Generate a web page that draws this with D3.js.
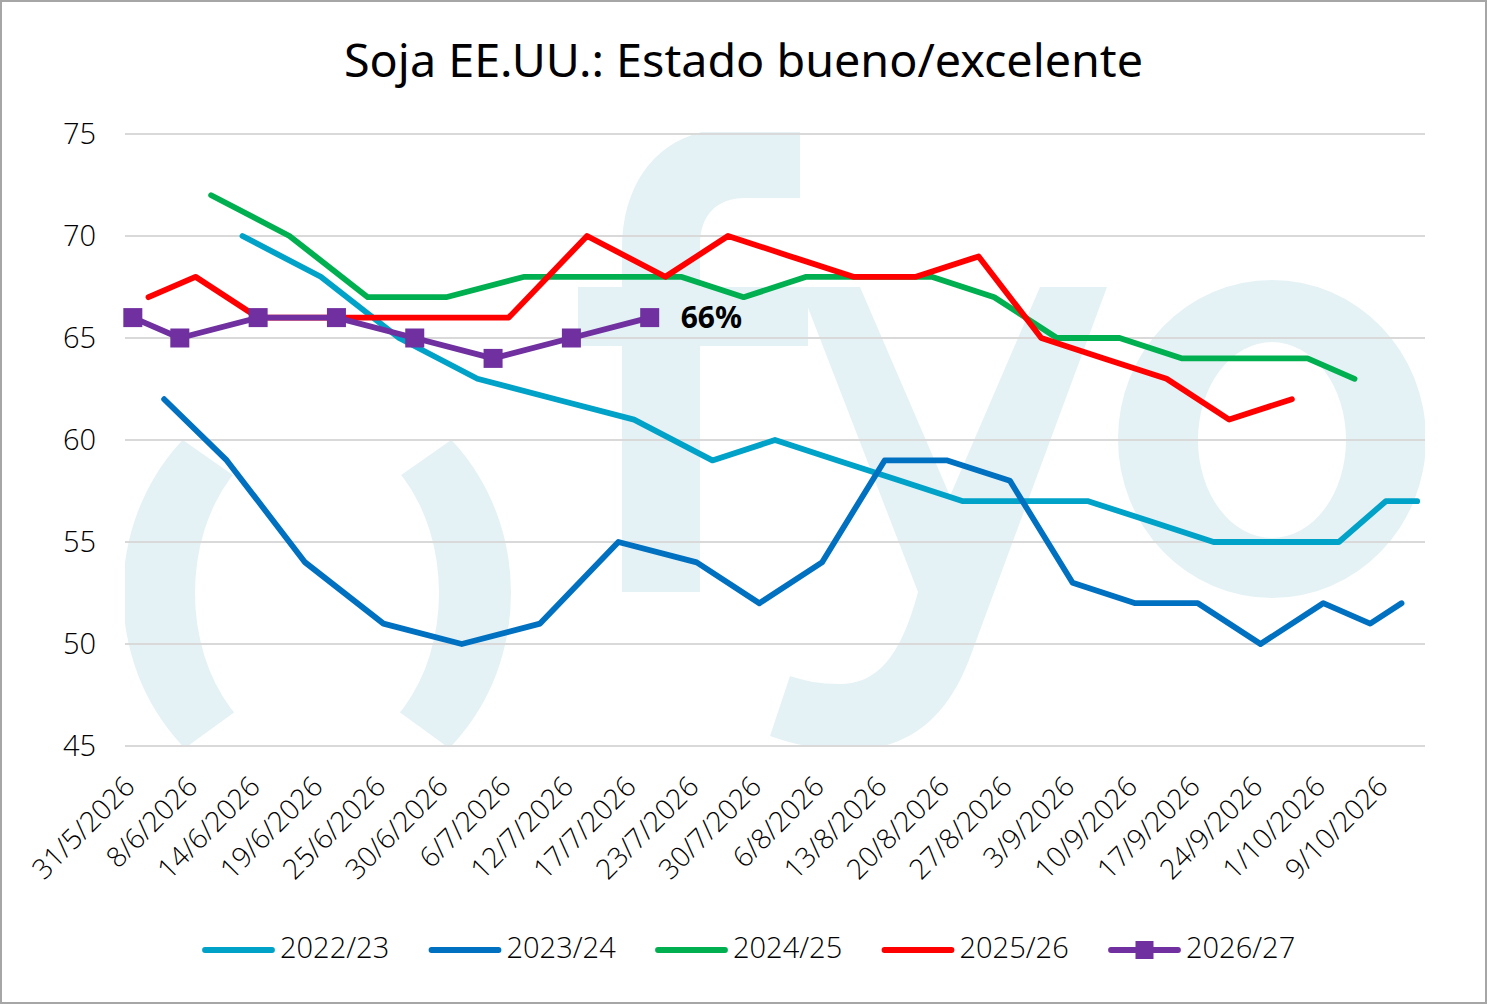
<!DOCTYPE html>
<html>
<head>
<meta charset="utf-8">
<script src="https://cdn.jsdelivr.net/npm/d3@7"></script>
<style>
  html, body { margin: 0; padding: 0; background: #ffffff; }
  svg { display: block; }
  text { font-family: "Noto Sans", "Open Sans", "DejaVu Sans", sans-serif; fill: #000; }
  .light { font-family: "Open Sans", "Noto Sans", sans-serif; font-weight: 300; }
</style>
</head>
<body>
<svg id="chart" width="1487" height="1004"></svg>
<script>
// ---------------- DATA ----------------
const title = "Soja EE.UU.: Estado bueno/excelente";
const xTickIndex = [0,4,8,12,16,20,24,28,32,36,40,44,48,52,56,60,64,68,72,76,80];
const xTickLabels = ["31/5/2026","8/6/2026","14/6/2026","19/6/2026","25/6/2026","30/6/2026",
  "6/7/2026","12/7/2026","17/7/2026","23/7/2026","30/7/2026","6/8/2026","13/8/2026",
  "20/8/2026","27/8/2026","3/9/2026","10/9/2026","17/9/2026","24/9/2026","1/10/2026","9/10/2026"];
const categoryCount = 83;
const yTicks = [45,50,55,60,65,70,75];

const seriesNames = ["2022/23","2023/24","2024/25","2025/26","2026/27"];
const seriesColors = ["#00A2C8","#0070C0","#00B050","#FF0000","#7030A0"];

const x2223 = [7,12,17,22,27,32,37,41,45,49,53,57,61,65,69,73,77,80,82];
const v2223 = [70,68,65,63,62,61,59,60,59,58,57,57,57,56,55,55,55,57,57];

const x2324 = [2,6,11,16,21,26,31,36,40,44,48,52,56,60,64,68,72,76,79,81];
const v2324 = [62,59,54,51,50,51,55,54,52,54,59,59,58,53,52,52,50,52,51,52];

const x2425 = [5,10,15,20,25,30,35,39,43,47,51,55,59,63,67,71,75,78];
const v2425 = [72,70,67,67,68,68,68,67,68,68,68,67,65,65,64,64,64,63];

const x2526 = [1,4,8,12,16,20,24,29,34,38,42,46,50,54,58,62,66,70,74];
const v2526 = [67,68,66,66,66,66,66,70,68,70,69,68,68,69,65,64,63,61,62];

const x2627 = [0,3,8,13,18,23,28,33];
const v2627 = [66,65,66,66,65,64,65,66];

const lastLabel = "66%";

// ---------------- LAYOUT ----------------
const W = 1487, H = 1004;
const plot = { left: 125, right: 1425, top: 134, bottom: 746 };

const svg = d3.select("#chart");

const x = d3.scaleLinear().domain([-0.5, categoryCount - 0.5]).range([plot.left, plot.right]);
const y = d3.scaleLinear().domain([45, 75]).range([plot.bottom, plot.top]);

// background + frame
svg.append("rect").attr("x",0).attr("y",0).attr("width",W).attr("height",H).attr("fill","#fff");
svg.append("rect").attr("x",1).attr("y",1).attr("width",W-2).attr("height",H-2)
  .attr("fill","none").attr("stroke","#a6a6a6").attr("stroke-width",2);

// ---------------- WATERMARK ----------------
const defs = svg.append("defs");
defs.append("clipPath").attr("id","plotClip").append("rect")
  .attr("x",plot.left).attr("y",plot.top-2).attr("width",plot.right-plot.left).attr("height",plot.bottom-plot.top+2);
defs.append("clipPath").attr("id","parenClip").append("polygon")
  .attr("points","317,534 100,382 0,382 0,810 100,810 317,652 534,810 700,810 700,382 534,382");

const wm = svg.append("g").attr("clip-path","url(#plotClip)").attr("fill","#e4f2f6");
function ellipsePath(cx, cy, rx, ry) {
  return `M${cx-rx},${cy} A${rx},${ry} 0 1,0 ${cx+rx},${cy} A${rx},${ry} 0 1,0 ${cx-rx},${cy} Z`;
}
// ( )
wm.append("g").attr("clip-path","url(#parenClip)").append("path")
  .attr("fill-rule","evenodd")
  .attr("d", ellipsePath(317,593,194,212) + ellipsePath(317,593,122,163));
// f
wm.append("path").attr("d",
  "M622,592 L622,250 C622,175 665,128 735,128 L800,128 L800,198 L745,198 C718,198 700,214 700,245 L700,592 Z");
wm.append("rect").attr("x",578).attr("y",287).attr("width",230).attr("height",59);
// y
wm.append("path").attr("d",
  "M800,287 L860,287 L950,496 L1040,287 L1107,287 L969,660 C945,722 905,750 850,750 C820,750 795,745 770,736 L790,676 C805,681 820,684 840,684 C875,684 900,660 918,592 Z");
// o
wm.append("path").attr("fill-rule","evenodd")
  .attr("d", ellipsePath(1272,439,154,159) + ellipsePath(1272,440,74,98));

// ---------------- GRID ----------------
svg.append("g").selectAll("line").data(yTicks).join("line")
  .attr("x1",plot.left).attr("x2",plot.right)
  .attr("y1",d=>y(d)).attr("y2",d=>y(d))
  .attr("stroke","#d9d9d9").attr("stroke-width",2);

// ---------------- AXES ----------------
const yAxis = d3.axisLeft(y).tickValues(yTicks).tickSize(0).tickPadding(0).tickFormat(d3.format("d"));
const gy = svg.append("g").attr("transform",`translate(${plot.left-29},0)`).call(yAxis);
gy.select(".domain").remove();
gy.attr("font-family",null).attr("font-size",null);
gy.selectAll("text").attr("font-size",29).attr("fill","#000").attr("class","light");

const xAxis = d3.axisBottom(x).tickValues(xTickIndex).tickSize(0)
  .tickFormat((d,i)=>xTickLabels[i]);
const gx = svg.append("g").attr("transform",`translate(0,${plot.bottom})`).call(xAxis);
gx.select(".domain").remove();
gx.attr("font-family",null).attr("font-size",null);
gx.selectAll("text")
  .attr("class","light")
  .attr("font-size",28).attr("fill","#000")
  .attr("text-anchor","end")
  .attr("dy",null).attr("y",null)
  .attr("transform","translate(-2,37) rotate(-45)")
  .attr("dominant-baseline","middle");

// ---------------- TITLE ----------------
svg.append("text").attr("x",W/2).attr("y",77).attr("text-anchor","middle")
  .attr("font-size",45).attr("textLength",799).attr("lengthAdjust","spacingAndGlyphs")
  .text(title);

// ---------------- SERIES ----------------
const allX = [x2223,x2324,x2425,x2526,x2627];
const allV = [v2223,v2324,v2425,v2526,v2627];
const line = d3.line().x(d=>x(d[0])).y(d=>y(d[1]));
const gS = svg.append("g");
allX.forEach((xs,k)=>{
  const pts = xs.map((xi,j)=>[xi, allV[k][j]]);
  gS.append("path").datum(pts).attr("d",line)
    .attr("fill","none").attr("stroke",seriesColors[k]).attr("stroke-width",5.8)
    .attr("stroke-linejoin","round").attr("stroke-linecap","round");
});
// markers for 2026/27
const pts27 = x2627.map((xi,j)=>[xi, v2627[j]]);
const msz = 19;
gS.selectAll("rect.mk").data(pts27).join("rect").attr("class","mk")
  .attr("x",d=>x(d[0])-msz/2).attr("y",d=>y(d[1])-msz/2)
  .attr("width",msz).attr("height",msz).attr("fill",seriesColors[4]);
// data label
const lp = pts27[pts27.length-1];
svg.append("text").attr("x",x(lp[0])+31).attr("y",y(lp[1])+2)
  .attr("dominant-baseline","middle").attr("font-size",30).attr("font-weight","bold")
  .text(lastLabel);

// ---------------- LEGEND ----------------
const lg = svg.append("g");
seriesNames.forEach((nm,i)=>{
  const x0 = 205 + i*226.5, yc = 950;
  lg.append("line").attr("x1",x0).attr("x2",x0+67).attr("y1",yc).attr("y2",yc)
    .attr("stroke",seriesColors[i]).attr("stroke-width",5.8).attr("stroke-linecap","round");
  if (i === 4) {
    lg.append("rect").attr("x",x0+33.5-9).attr("y",yc-9).attr("width",18).attr("height",18)
      .attr("fill",seriesColors[i]);
  }
  lg.append("text").attr("class","light").attr("x",x0+75).attr("y",yc).attr("dominant-baseline","middle")
    .attr("font-size",29).text(nm);
});
</script>
</body>
</html>
